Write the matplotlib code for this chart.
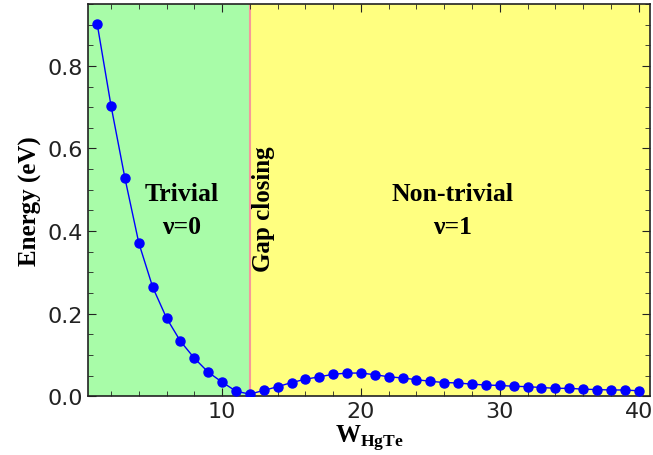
import matplotlib.pyplot as plt
from matplotlib.ticker import MultipleLocator

plt.rcParams['mathtext.fontset'] = 'custom'
plt.rcParams['mathtext.bf'] = 'Liberation Serif:bold'
plt.rcParams['mathtext.rm'] = 'Liberation Serif:bold'

# energy gap vs. HgTe width
width = list(range(1, 41))
energy = [0.902, 0.703, 0.528, 0.371, 0.264, 0.189, 0.133, 0.092, 0.058, 0.034,
          0.012, 0.005, 0.014, 0.023, 0.033, 0.041, 0.047, 0.053, 0.056, 0.056,
          0.052, 0.047, 0.044, 0.040, 0.036, 0.033, 0.032, 0.029, 0.027, 0.026,
          0.024, 0.023, 0.021, 0.019, 0.019, 0.017, 0.016, 0.015, 0.015, 0.013]
w_closing = 12

serif = dict(family='Liberation Serif', weight='bold')

fig = plt.figure(figsize=(6.53, 4.56), dpi=100)
ax = fig.add_axes([0.135, 0.129, 0.86, 0.86])

x0, x1 = 0.35, 40.8
ax.axvspan(x0, w_closing, color='#a8fca8', lw=0, zorder=0)
ax.axvspan(w_closing, x1, color='#ffff80', lw=0, zorder=0)
ax.axvline(w_closing, color='#f59a9a', lw=1.5, zorder=1)

ax.plot(width, energy, '-o', color='#0000ff', lw=1, ms=6.5, zorder=3)

ax.text(7.1, 0.49, 'Trivial', ha='center', va='center', fontsize=18.5, **serif)
ax.text(7.1, 0.41, 'ν=0', ha='center', va='center', fontsize=18.5, **serif)
ax.text(26.6, 0.49, 'Non-trivial', ha='center', va='center', fontsize=18.5, **serif)
ax.text(26.6, 0.41, 'ν=1', ha='center', va='center', fontsize=18.5, **serif)
ax.text(13.0, 0.456, 'Gap closing', rotation=90, ha='center', va='center',
        fontsize=18, **serif)

ax.set_xlim(x0, x1)
ax.set_ylim(0, 0.95)
ax.xaxis.set_major_locator(MultipleLocator(10))
ax.xaxis.set_minor_locator(MultipleLocator(2))
ax.yaxis.set_major_locator(MultipleLocator(0.2))
ax.yaxis.set_minor_locator(MultipleLocator(0.05))
ax.tick_params(which='both', direction='in', top=True, right=True,
               labelsize=16, colors='#222222')
ax.tick_params(which='major', length=6)
ax.tick_params(which='minor', length=3.5)
for s in ax.spines.values():
    s.set_linewidth(1.2)
    s.set_color('#222222')

ax.set_xlabel(r'$\mathbf{W}_{\mathbf{HgTe}}$', fontsize=18, labelpad=1)
ax.set_ylabel('Energy (eV)', fontsize=18, labelpad=4, **serif)

fig.savefig('out.png', dpi=100)
